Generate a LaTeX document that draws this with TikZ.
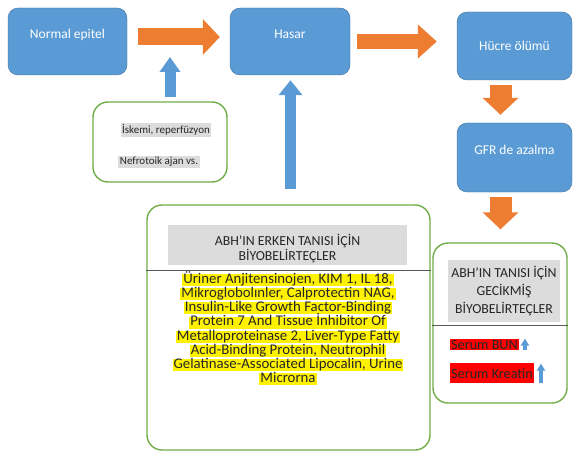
\documentclass[tikz,border=0pt]{standalone}
\usepackage{fontspec}
\setmainfont{Carlito}
\usetikzlibrary{arrows.meta}

\definecolor{boxblue}{HTML}{5B9BD5}
\definecolor{boxblueline}{HTML}{41719C}
\definecolor{arroworange}{HTML}{ED7D31}
\definecolor{boxgreen}{HTML}{70AD47}
\definecolor{textgray}{HTML}{262626}
\definecolor{headgray}{HTML}{DCDCDC}

\tikzset{
  bluebox/.style={draw=boxblueline, fill=boxblue, rounded corners=10pt, text=white,
    font=\fontsize{13.5}{15}\selectfont},
  raised/.style={text height=9pt, text depth=15pt},
  greenbox/.style={draw=boxgreen, line width=1.4pt, fill=white, rounded corners=15pt},
  headbox/.style={fill=headgray, text=textgray, align=center, font=\fontsize{13.8}{15}\selectfont},
  mark gray/.style={fill=headgray, text=textgray, inner sep=1.5pt, font=\fontsize{11}{13}\selectfont},
  mark yellow/.style={fill=yellow, text=textgray, inner xsep=1pt, inner ysep=0.2pt,
    text height=9pt, text depth=2.6pt, font=\fontsize{14.8}{15}\selectfont},
  mark red/.style={fill=red, text=textgray, inner xsep=1pt, inner ysep=1pt,
    font=\fontsize{14.2}{15}\selectfont},
  sepline/.style={draw=black!65, line width=0.8pt},
  orangearrow/.style={arroworange},
  bluearrow/.style={boxblue}
}

\begin{document}
\begin{tikzpicture}[x=1pt, y=-1pt]
  \useasboundingbox (0,0) rectangle (575,468);

  % process boxes
  \node[bluebox, raised, minimum width=119pt, minimum height=67pt] (normal) at (67.5,41.5) {Normal epitel};
  \node[bluebox, raised, minimum width=120pt, minimum height=67pt] (hasar) at (290,41.5) {Hasar};
  \node[bluebox, minimum width=115pt, minimum height=68pt] (hucre) at (514.5,46) {Hücre ölümü};
  \node[bluebox, raised, minimum width=115pt, minimum height=69pt] (gfr) at (514.5,157.5) {GFR de azalma};

  % causes
  \node[greenbox, minimum width=134pt, minimum height=80pt] (causes) at (160,142) {};
  \node[mark gray] (iskemi) at (166,130) {İskemi, reperfüzyon};
  \node[mark gray] (nefro) at (159,162) {Nefrotoik ajan vs.};

  % early biomarkers
  \node[greenbox, minimum width=283pt, minimum height=245pt] (early) at (288.5,327.5) {};
  \node[headbox, minimum width=239pt, minimum height=40pt, inner sep=1pt] (earlyhead)
    at (287.5,245) {\rule{0pt}{19pt}ABH’IN ERKEN TANISI İÇİN\\BİYOBELİRTEÇLER};
  \draw[sepline] (early.west |- 0,270) -- (early.east |- 0,270);
  \foreach \ypos/\txt [count=\i] in {
      280/{Üriner Anjitensinojen, KIM 1, IL 18,},
      294.2/{Mikroglobolınler, Calprotectin NAG,},
      308.4/{Insulin-Like Growth Factor-Binding},
      322.6/{Protein 7 And Tissue İnhibitor Of},
      336.8/{Metalloproteinase 2, Liver-Type Fatty},
      351/{Acid-Binding Protein, Neutrophil},
      365.2/{Gelatinase-Associated Lipocalin, Urine},
      379.4/{Microrna}}
    \node[mark yellow] (line\i) at (288,\ypos) {\txt};

  % late biomarkers
  \node[greenbox, minimum width=134pt, minimum height=160pt] (late) at (500,323) {};
  \node[headbox, minimum width=112pt, minimum height=62pt, inner sep=1pt] (latehead) at (504,291)
    {ABH’IN TANISI İÇİN\\[3pt]GECİKMİŞ\\[3pt]BİYOBELİRTEÇLER};
  \draw[sepline] (late.west |- 0,325) -- (late.east |- 0,325);
  \node[mark red, anchor=west] (bun) at (450,344.5) {Serum BUN};
  \node[mark red, anchor=south west, text height=15pt, text depth=3pt] (kreatin) at (450,383) {Serum Kreatin};
  \draw[bluearrow, line width=3.5pt, -{Triangle[width=8pt,length=7pt]}]
    ([xshift=6pt]bun.south east) -- ([xshift=6pt]bun.north east);
  \draw[bluearrow, line width=3.5pt, -{Triangle[width=8pt,length=7pt]}]
    ([xshift=7pt]kreatin.south east) -- ([xshift=7pt,yshift=-1pt]kreatin.north east);

  % flow arrows
  \draw[orangearrow, line width=17pt, -{Triangle[width=35pt,length=17pt]}, shorten <=11pt, shorten >=10pt]
    ([yshift=4.5pt]normal.east) -- ([yshift=4.5pt]hasar.west);
  \draw[orangearrow, line width=15pt, -{Triangle[width=33pt,length=19pt]}, shorten <=7pt, shorten >=20pt]
    (hasar.east) -- (hasar.east -| hucre.west);
  \draw[orangearrow, line width=22pt, -{Triangle[width=35pt,length=17pt]}, shorten <=5pt, shorten >=8pt]
    ([xshift=-14pt]hucre.south) -- ([xshift=-14pt]gfr.north);
  \draw[orangearrow, line width=22pt, -{Triangle[width=35pt,length=17pt]}, shorten <=5pt, shorten >=13pt]
    ([xshift=-14pt]gfr.south) -- ([xshift=-14pt]gfr.south |- late.north);

  \coordinate (join) at (170,57);
  \draw[bluearrow, line width=11pt, -{Triangle[width=20pt,length=15pt]}, shorten <=4pt]
    ([xshift=10pt]causes.north) -- (join);
  \draw[bluearrow, line width=11pt, -{Triangle[width=23pt,length=15pt]}, shorten <=15pt, shorten >=5pt]
    ([xshift=2pt]early.north) -- ([xshift=2pt]early.north |- hasar.south);
\end{tikzpicture}
\end{document}
